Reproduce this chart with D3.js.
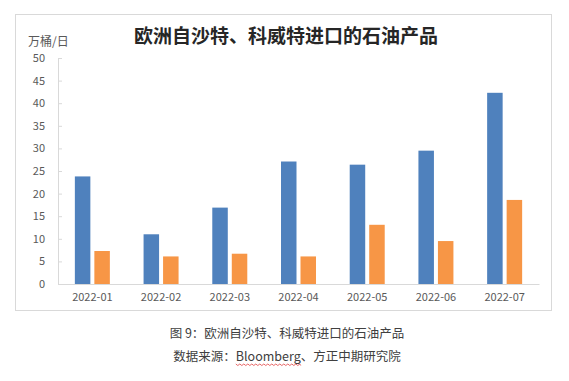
<!DOCTYPE html>
<html><head><meta charset="utf-8">
<script src="https://cdn.jsdelivr.net/npm/d3@7/dist/d3.min.js"></script>
<style>body{margin:0;background:#fff;}svg{display:block;}</style>
</head><body>
<svg id="c" width="569" height="381"></svg>
<script>
const categories = ["2022-01","2022-02","2022-03","2022-04","2022-05","2022-06","2022-07"];
const seriesA = [23.8, 11.0, 16.9, 27.1, 26.4, 29.5, 42.3];
const seriesB = [7.3, 6.1, 6.7, 6.1, 13.1, 9.5, 18.6];
const yTicks = [0,5,10,15,20,25,30,35,40,45,50];
const title = "欧洲自沙特、科威特进口的石油产品";
const unit = "万桶/日";
const caption1 = "图 9：欧洲自沙特、科威特进口的石油产品";
const caption2 = "数据来源：Bloomberg、方正中期研究院";

const svg = d3.select("#c");
const sans = "'Noto Sans CJK SC','Noto Sans',sans-serif";

svg.append("rect").attr("x",15.5).attr("y",14.5).attr("width",536).attr("height",296)
  .attr("fill","#fff").attr("stroke","#d9d9d9").attr("stroke-width",1);

const x = d3.scaleBand().domain(categories).range([58,539]);
const y = d3.scaleLinear().domain([0,50]).range([284,58]);

// y axis
const ya = svg.append("g").attr("transform","translate(58,0)")
  .call(d3.axisLeft(y).tickValues(yTicks).tickSize(-4).tickPadding(13));
ya.select(".domain").attr("stroke","#d9d9d9");
ya.selectAll(".tick line").attr("stroke","#d9d9d9");
ya.selectAll("text").attr("fill","#595959").style("font-family",sans).style("font-size","11px");

// bars
const bw = 15.5, gap = 4;
const g = svg.append("g");
g.selectAll(".a").data(categories).join("rect")
  .attr("x",d=>x(d)+x.bandwidth()/2-gap/2-bw).attr("width",bw)
  .attr("y",(d,i)=>y(seriesA[i])).attr("height",(d,i)=>y(0)-y(seriesA[i]))
  .attr("fill","#4f81bd");
g.selectAll(".b").data(categories).join("rect")
  .attr("x",d=>x(d)+x.bandwidth()/2+gap/2).attr("width",bw)
  .attr("y",(d,i)=>y(seriesB[i])).attr("height",(d,i)=>y(0)-y(seriesB[i]))
  .attr("fill","#f79646");

// x axis
const xa = svg.append("g").attr("transform","translate(0,284)")
  .call(d3.axisBottom(x).tickSize(0).tickPadding(9));
xa.select(".domain").attr("stroke","#d9d9d9");
xa.selectAll("text").attr("fill","#595959").style("font-family",sans).style("font-size","11px");

// title
svg.append("text").attr("x",286).attr("y",43).attr("text-anchor","middle")
  .style("font-family","'Noto Sans CJK SC',sans-serif").style("font-weight","bold")
  .style("font-size","19px").attr("fill","#262626").text(title);
svg.append("text").attr("x",28).attr("y",46).style("font-family",sans)
  .style("font-size","12px").attr("fill","#595959").text(unit);

// captions
svg.append("text").attr("x",287).attr("y",338).attr("text-anchor","middle")
  .style("font-family","'Noto Sans CJK SC',sans-serif").style("font-size","12.5px")
  .attr("fill","#404040").text(caption1);
const c2 = svg.append("text").attr("x",287).attr("y",361).attr("text-anchor","middle")
  .style("font-family","'Noto Sans CJK SC',sans-serif").style("font-size","12.5px")
  .attr("fill","#404040").text(caption2);

// spell-check style wavy underline under "Bloomberg"
try {
  const node = c2.node();
  const s = caption2.indexOf("Bloomberg");
  const x0 = node.getStartPositionOfChar(s).x;
  const x1 = node.getEndPositionOfChar(s + 8).x;
  let d = `M${x0},364`;
  for (let xx = x0, k = 0; xx < x1; xx += 2, k++) d += ` L${Math.min(xx+2,x1)},${k % 2 ? 364 : 365.5}`;
  svg.append("path").attr("d", d).attr("fill","none").attr("stroke","#e04040").attr("stroke-width",0.8);
} catch (e) {}
</script>
</body></html>
